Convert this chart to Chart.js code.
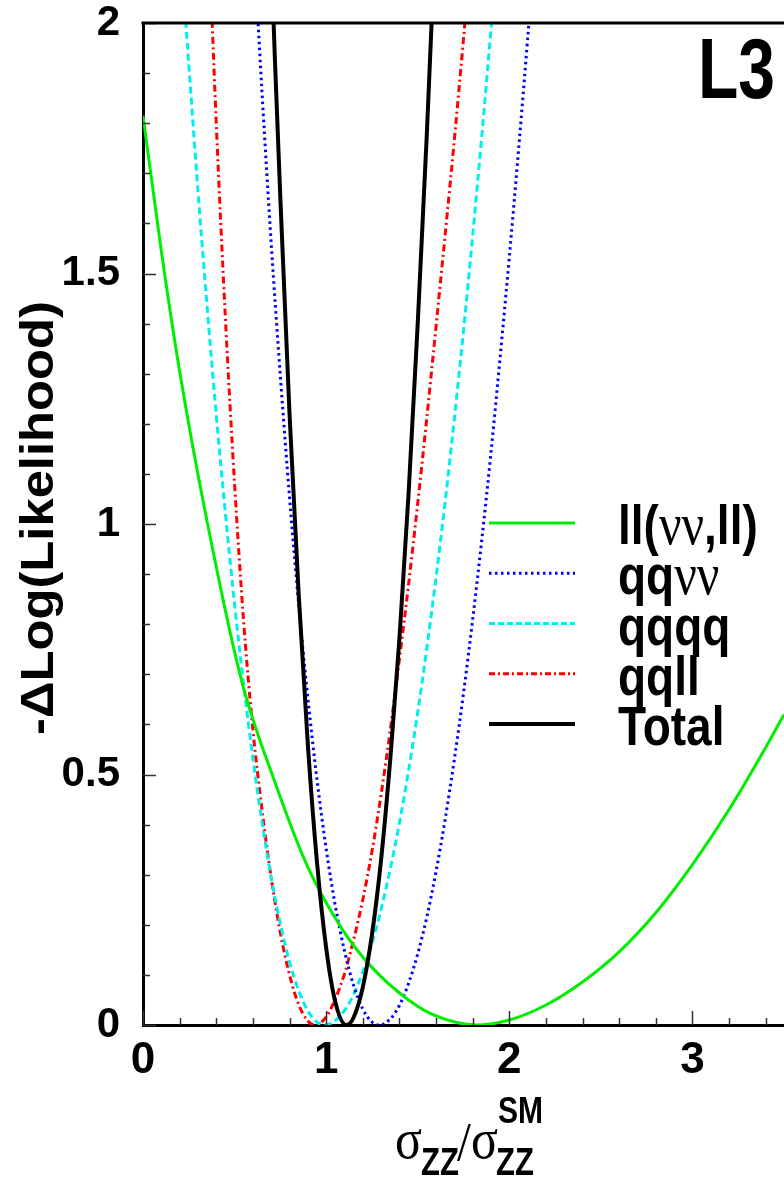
<!DOCTYPE html>
<html>
<head>
<meta charset="utf-8">
<script src="https://cdn.jsdelivr.net/npm/chart.js@4.4.1/dist/chart.umd.min.js"></script>
<style>
html, body { margin: 0; padding: 0; background: #fff; }
#wrap { width: 784px; height: 1180px; }
</style>
</head>
<body>
<div id="wrap"><canvas id="chart-ll" width="784" height="1180"></canvas></div>
<script>
// eixos
const xTicks = [0, 1, 2, 3];
const yTicks = [0, 0.5, 1, 1.5, 2];

// ll(vv,ll)
const llX = [0, 0.1, 0.2, 0.35, 0.54, 0.72, 0.9, 1.09, 1.25, 1.45, 1.6, 1.82, 2.0, 2.2, 2.4, 2.6, 2.8, 3.0, 3.2, 3.4, 3.5];
const llY = [1.815, 1.545, 1.305, 1.005, 0.685, 0.485, 0.315, 0.19, 0.115, 0.05, 0.018, 0, 0.01, 0.04, 0.086, 0.146, 0.224, 0.32, 0.43, 0.554, 0.62];

// qqvv
const qqvvX = [0.60, 0.65, 0.70, 0.75, 0.80, 0.85, 0.90, 0.95, 1.00, 1.05, 1.10, 1.15, 1.20, 1.25, 1.29, 1.35, 1.40, 1.45, 1.50, 1.55, 1.60, 1.65, 1.70, 1.75, 1.80, 1.85, 1.90, 1.95, 2.00, 2.05, 2.10, 2.15];
const qqvvY = [2.19, 1.86, 1.56, 1.295, 1.054, 0.84, 0.653, 0.49, 0.352, 0.238, 0.148, 0.079, 0.032, 0.006, 0, 0.012, 0.039, 0.083, 0.142, 0.216, 0.306, 0.411, 0.53, 0.662, 0.809, 0.969, 1.142, 1.333, 1.532, 1.744, 1.968, 2.204];

// qqqq
const qqqqX = [0.20, 0.25, 0.30, 0.35, 0.40, 0.45, 0.50, 0.55, 0.60, 0.65, 0.70, 0.75, 0.80, 0.85, 0.90, 0.95, 0.99, 1.05, 1.10, 1.15, 1.20, 1.25, 1.30, 1.35, 1.40, 1.45, 1.50, 1.55, 1.60, 1.65, 1.70, 1.75, 1.80, 1.85, 1.90, 1.95];
const qqqqY = [2.18, 1.917, 1.666, 1.434, 1.218, 1.021, 0.84, 0.678, 0.532, 0.405, 0.294, 0.202, 0.126, 0.069, 0.028, 0.006, 0, 0.009, 0.029, 0.061, 0.106, 0.162, 0.231, 0.311, 0.403, 0.508, 0.624, 0.753, 0.893, 1.045, 1.21, 1.386, 1.575, 1.775, 1.987, 2.21];

// qqll
const qqllX = [0.35, 0.40, 0.45, 0.50, 0.55, 0.60, 0.65, 0.70, 0.75, 0.80, 0.85, 0.90, 0.94, 1.00, 1.05, 1.10, 1.15, 1.20, 1.25, 1.30, 1.35, 1.40, 1.45, 1.50, 1.55, 1.60, 1.65, 1.70, 1.75, 1.80];
const qqllY = [2.26, 1.80, 1.41, 1.08, 0.803, 0.59, 0.429, 0.294, 0.184, 0.10, 0.041, 0.008, 0, 0.016, 0.052, 0.102, 0.17, 0.25, 0.346, 0.46, 0.588, 0.73, 0.879, 1.041, 1.213, 1.394, 1.578, 1.767, 1.968, 2.18];

// total
const totalX = [0.69, 0.72, 0.75, 0.80, 0.85, 0.90, 0.95, 1.00, 1.05, 1.11, 1.15, 1.20, 1.25, 1.30, 1.35, 1.40, 1.45, 1.50, 1.55, 1.60];
const totalY = [2.24, 1.93, 1.65, 1.22, 0.86, 0.56, 0.325, 0.154, 0.046, 0, 0.015, 0.075, 0.18, 0.33, 0.53, 0.77, 1.06, 1.40, 1.78, 2.21];

const CORES = { ll: '#00ee00', qqvv: '#0000ff', qqqq: '#00eeee', qqll: '#ff0000', total: '#000000' };
const SANS = '"Liberation Sans", Arial, sans-serif';
const SERIF = '"Liberation Serif", "Times New Roman", serif';

const pontos = (xs, ys) => xs.map((x, i) => ({ x: x, y: ys[i] }));

function serie(label, xs, ys, cor, largura, dash, ordem) {
    return {
        label: label,
        data: pontos(xs, ys),
        borderColor: cor,
        borderWidth: largura,
        borderDash: dash,
        pointRadius: 0,
        fill: false,
        cubicInterpolationMode: 'monotone',
        clip: 0,
        order: ordem
    };
}

function texto(ctx, str, x, y, font, sy, align) {
    ctx.save();
    ctx.translate(x, y);
    ctx.scale(1, sy);
    ctx.font = font;
    ctx.textAlign = align || 'left';
    ctx.textBaseline = 'alphabetic';
    ctx.fillStyle = '#000';
    ctx.fillText(str, 0, 0);
    ctx.restore();
}

const LEGENDA = [
    { cor: CORES.ll, w: 3, dash: [], partes: [['ll(', 's'], ['νν', 'r'], [',ll)', 's']] },
    { cor: CORES.qqvv, w: 3, dash: [2.5, 3.5], partes: [['qq', 's'], ['νν', 'r']] },
    { cor: CORES.qqqq, w: 3, dash: [6, 3], partes: [['qqqq', 's']] },
    { cor: CORES.qqll, w: 3, dash: [6, 3, 2, 3], partes: [['qqll', 's']] },
    { cor: CORES.total, w: 4, dash: [], partes: [['Total', 's']] }
];

const molduraPlugin = {
    id: 'moldura',
    afterDraw(chart) {
        const ctx = chart.ctx;
        const a = chart.chartArea;
        const xs = chart.scales.x, ys = chart.scales.y;

        // ticks para dentro
        ctx.save();
        ctx.strokeStyle = '#333';
        ctx.lineWidth = 1.5;
        ctx.beginPath();
        for (let i = 0; i <= 34; i += 2) {
            const px = Math.round(xs.getPixelForValue(i / 10)) + 0.5;
            const len = (i % 10 === 0) ? 14 : 7;
            ctx.moveTo(px, a.bottom);
            ctx.lineTo(px, a.bottom - len);
        }
        for (let i = 0; i <= 20; i++) {
            const py = Math.round(ys.getPixelForValue(i / 10)) + 0.5;
            const len = (i % 5 === 0) ? 13 : 7;
            ctx.moveTo(a.left, py);
            ctx.lineTo(a.left + len, py);
        }
        ctx.stroke();

        // borda superior
        ctx.strokeStyle = '#000';
        ctx.lineWidth = 3;
        ctx.beginPath();
        ctx.moveTo(a.left - 1.5, a.top);
        ctx.lineTo(a.right, a.top);
        ctx.stroke();
        ctx.restore();

        // legenda
        LEGENDA.forEach((item, i) => {
            const yl = 523 + i * 50.25;
            ctx.save();
            ctx.strokeStyle = item.cor;
            ctx.lineWidth = item.w;
            ctx.setLineDash(item.dash);
            ctx.beginPath();
            ctx.moveTo(489, yl);
            ctx.lineTo(575, yl);
            ctx.stroke();
            ctx.restore();
            let x = 618;
            item.partes.forEach(([str, tipo]) => {
                const font = tipo === 's' ? 'bold 46px ' + SANS : '50px ' + SERIF;
                texto(ctx, str, x, yl + 21, font, 1.2);
                ctx.save();
                ctx.font = font;
                x += ctx.measureText(str).width;
                ctx.restore();
            });
        });

        // L3
        texto(ctx, 'L3', 775, 98, 'bold 66px ' + SANS, 1.29, 'right');

        // titulo eixo x
        texto(ctx, 'σ', 395, 1158, '50px ' + SERIF, 1.15);
        texto(ctx, 'ZZ', 421, 1175, 'bold 31px ' + SANS, 1.25);
        texto(ctx, '/', 457, 1160, '50px ' + SERIF, 1.1);
        texto(ctx, 'σ', 471, 1158, '50px ' + SERIF, 1.15);
        texto(ctx, 'ZZ', 496, 1175, 'bold 31px ' + SANS, 1.25);
        texto(ctx, 'SM', 498, 1123, 'bold 30px ' + SANS, 1.2);

        // titulo eixo y
        ctx.save();
        ctx.translate(53, 518);
        ctx.rotate(-Math.PI / 2);
        ctx.scale(1.08, 1);
        ctx.font = 'bold 47px ' + SANS;
        ctx.textAlign = 'center';
        ctx.textBaseline = 'alphabetic';
        ctx.fillStyle = '#000';
        ctx.fillText('-ΔLog(Likelihood)', 0, 0);
        ctx.restore();
    }
};

new Chart(document.getElementById('chart-ll'), {
    type: 'line',
    data: {
        datasets: [
            serie('ll(νν,ll)', llX, llY, CORES.ll, 3, [], 2),
            serie('qqνν', qqvvX, qqvvY, CORES.qqvv, 3, [2.5, 3.5], 2),
            serie('qqqq', qqqqX, qqqqY, CORES.qqqq, 3, [7, 4], 2),
            serie('qqll', qqllX, qqllY, CORES.qqll, 3, [7, 3.5, 2, 3.5], 2),
            serie('Total', totalX, totalY, CORES.total, 4, [], 0)
        ]
    },
    options: {
        responsive: false,
        animation: false,
        devicePixelRatio: 1,
        layout: { padding: { top: 23, right: 0, left: 0, bottom: 0 } },
        plugins: { legend: { display: false }, tooltip: { enabled: false } },
        scales: {
            x: {
                type: 'linear',
                min: 0,
                max: 3.5,
                afterBuildTicks: (s) => { s.ticks = xTicks.map(v => ({ value: v })); },
                afterFit: (s) => { s.height = 155; s.paddingLeft = 0; s.paddingRight = 0; },
                grid: { display: false, drawTicks: false },
                border: { display: true, color: '#000', width: 3 },
                ticks: { color: '#000', padding: 9, maxRotation: 0, font: { family: SANS, size: 44, weight: 'bold' }, callback: (v) => String(v) }
            },
            y: {
                type: 'linear',
                min: 0,
                max: 2,
                afterBuildTicks: (s) => { s.ticks = yTicks.map(v => ({ value: v })); },
                afterFit: (s) => { s.width = 143; s.paddingTop = 0; s.paddingBottom = 0; },
                grid: { display: false, drawTicks: false },
                border: { display: true, color: '#000', width: 3 },
                ticks: { color: '#000', padding: 23, font: { family: SANS, size: 42, weight: 'bold' }, callback: (v) => String(v) }
            }
        }
    },
    plugins: [molduraPlugin]
});
</script>
</body>
</html>
